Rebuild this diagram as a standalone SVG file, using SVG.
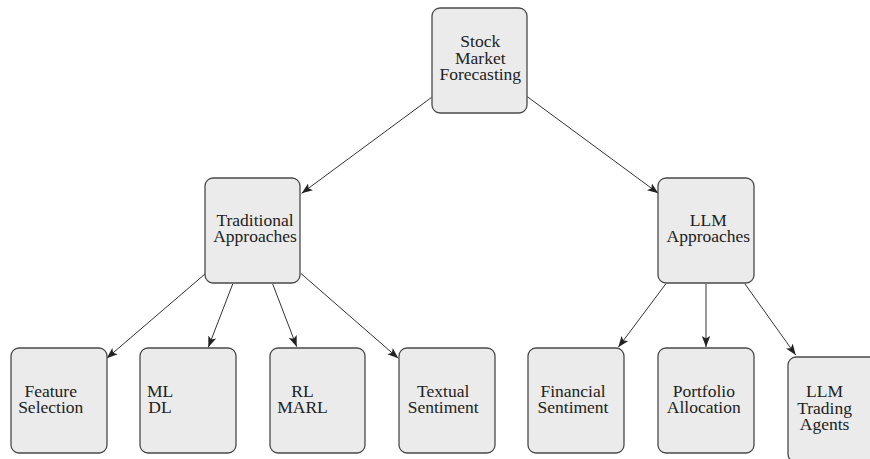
<svg xmlns="http://www.w3.org/2000/svg" width="870" height="459" viewBox="0 0 870 459">
  <style>
    .box { fill: #ebebeb; stroke: #4a4a4a; stroke-width: 1.3; }
    .lbl { font-family: "Liberation Serif", "Times New Roman", serif; font-size: 17.5px; fill: #222; text-anchor: middle; }
    .edge { fill: none; stroke: #333; stroke-width: 1; marker-end: url(#tip); }
  </style>
  <defs>
    <!-- stealth-style arrowhead -->
    <marker id="tip" markerUnits="userSpaceOnUse" markerWidth="12" markerHeight="10" viewBox="0 0 12 10" refX="11" refY="5" orient="auto">
      <path d="M0,0.8 L11,5 L0,9.2 L2.6,5 Z" fill="#222"/>
    </marker>
  </defs>

  <rect width="870" height="459" fill="#ffffff"/>

  <g id="edges">
    <line class="edge" x1="431.7" y1="97.3" x2="301.7" y2="193.3"/>
    <line class="edge" x1="527.3" y1="96.7" x2="658.3" y2="193.3"/>
    <line class="edge" x1="205" y1="274" x2="106.7" y2="358.3"/>
    <line class="edge" x1="232.7" y1="284" x2="208.3" y2="347.3"/>
    <line class="edge" x1="272.7" y1="284" x2="296.7" y2="346.7"/>
    <line class="edge" x1="300.7" y1="273.3" x2="398.3" y2="358.3"/>
    <line class="edge" x1="665.7" y1="284" x2="618.3" y2="347.3"/>
    <line class="edge" x1="706" y1="284" x2="706" y2="347"/>
    <line class="edge" x1="745" y1="284" x2="795.7" y2="355"/>
  </g>

  <g id="root">
    <rect class="box" x="432" y="8" width="95" height="105" rx="8"/>
    <text class="lbl" x="480.3" y="47">Stock</text>
    <text class="lbl" x="480.3" y="63.5">Market</text>
    <text class="lbl" x="480.3" y="80">Forecasting</text>
  </g>

  <g id="traditional">
    <rect class="box" x="205" y="178" width="95" height="105" rx="8"/>
    <text class="lbl" x="255" y="226">Traditional</text>
    <text class="lbl" x="255" y="242">Approaches</text>
  </g>

  <g id="llm">
    <rect class="box" x="658" y="178" width="96" height="105" rx="8"/>
    <text class="lbl" x="708.3" y="226">LLM</text>
    <text class="lbl" x="708.3" y="242">Approaches</text>
  </g>

  <g id="feature-selection">
    <rect class="box" x="11" y="348" width="96" height="105" rx="8"/>
    <text class="lbl" x="50.7" y="396.5">Feature</text>
    <text class="lbl" x="50.7" y="412.5">Selection</text>
  </g>

  <g id="ml-dl">
    <rect class="box" x="140" y="348" width="96" height="105" rx="8"/>
    <text class="lbl" x="160" y="396.5">ML</text>
    <text class="lbl" x="160" y="412.5">DL</text>
  </g>

  <g id="rl-marl">
    <rect class="box" x="270" y="348" width="95" height="105" rx="8"/>
    <text class="lbl" x="302.5" y="396.5">RL</text>
    <text class="lbl" x="302.5" y="412.5">MARL</text>
  </g>

  <g id="textual-sentiment">
    <rect class="box" x="399" y="348" width="96" height="105" rx="8"/>
    <text class="lbl" x="443.2" y="396.5">Textual</text>
    <text class="lbl" x="443.2" y="412.5">Sentiment</text>
  </g>

  <g id="financial-sentiment">
    <rect class="box" x="528" y="348" width="96" height="105" rx="8"/>
    <text class="lbl" x="573" y="396.5">Financial</text>
    <text class="lbl" x="573" y="412.5">Sentiment</text>
  </g>

  <g id="portfolio-allocation">
    <rect class="box" x="658" y="348" width="96" height="105" rx="8"/>
    <text class="lbl" x="703.8" y="396.5">Portfolio</text>
    <text class="lbl" x="703.8" y="412.5">Allocation</text>
  </g>

  <g id="llm-trading-agents">
    <rect class="box" x="788" y="357" width="96" height="105" rx="8"/>
    <text class="lbl" x="824.6" y="397">LLM</text>
    <text class="lbl" x="824.6" y="413.5">Trading</text>
    <text class="lbl" x="824.6" y="430">Agents</text>
  </g>
</svg>
